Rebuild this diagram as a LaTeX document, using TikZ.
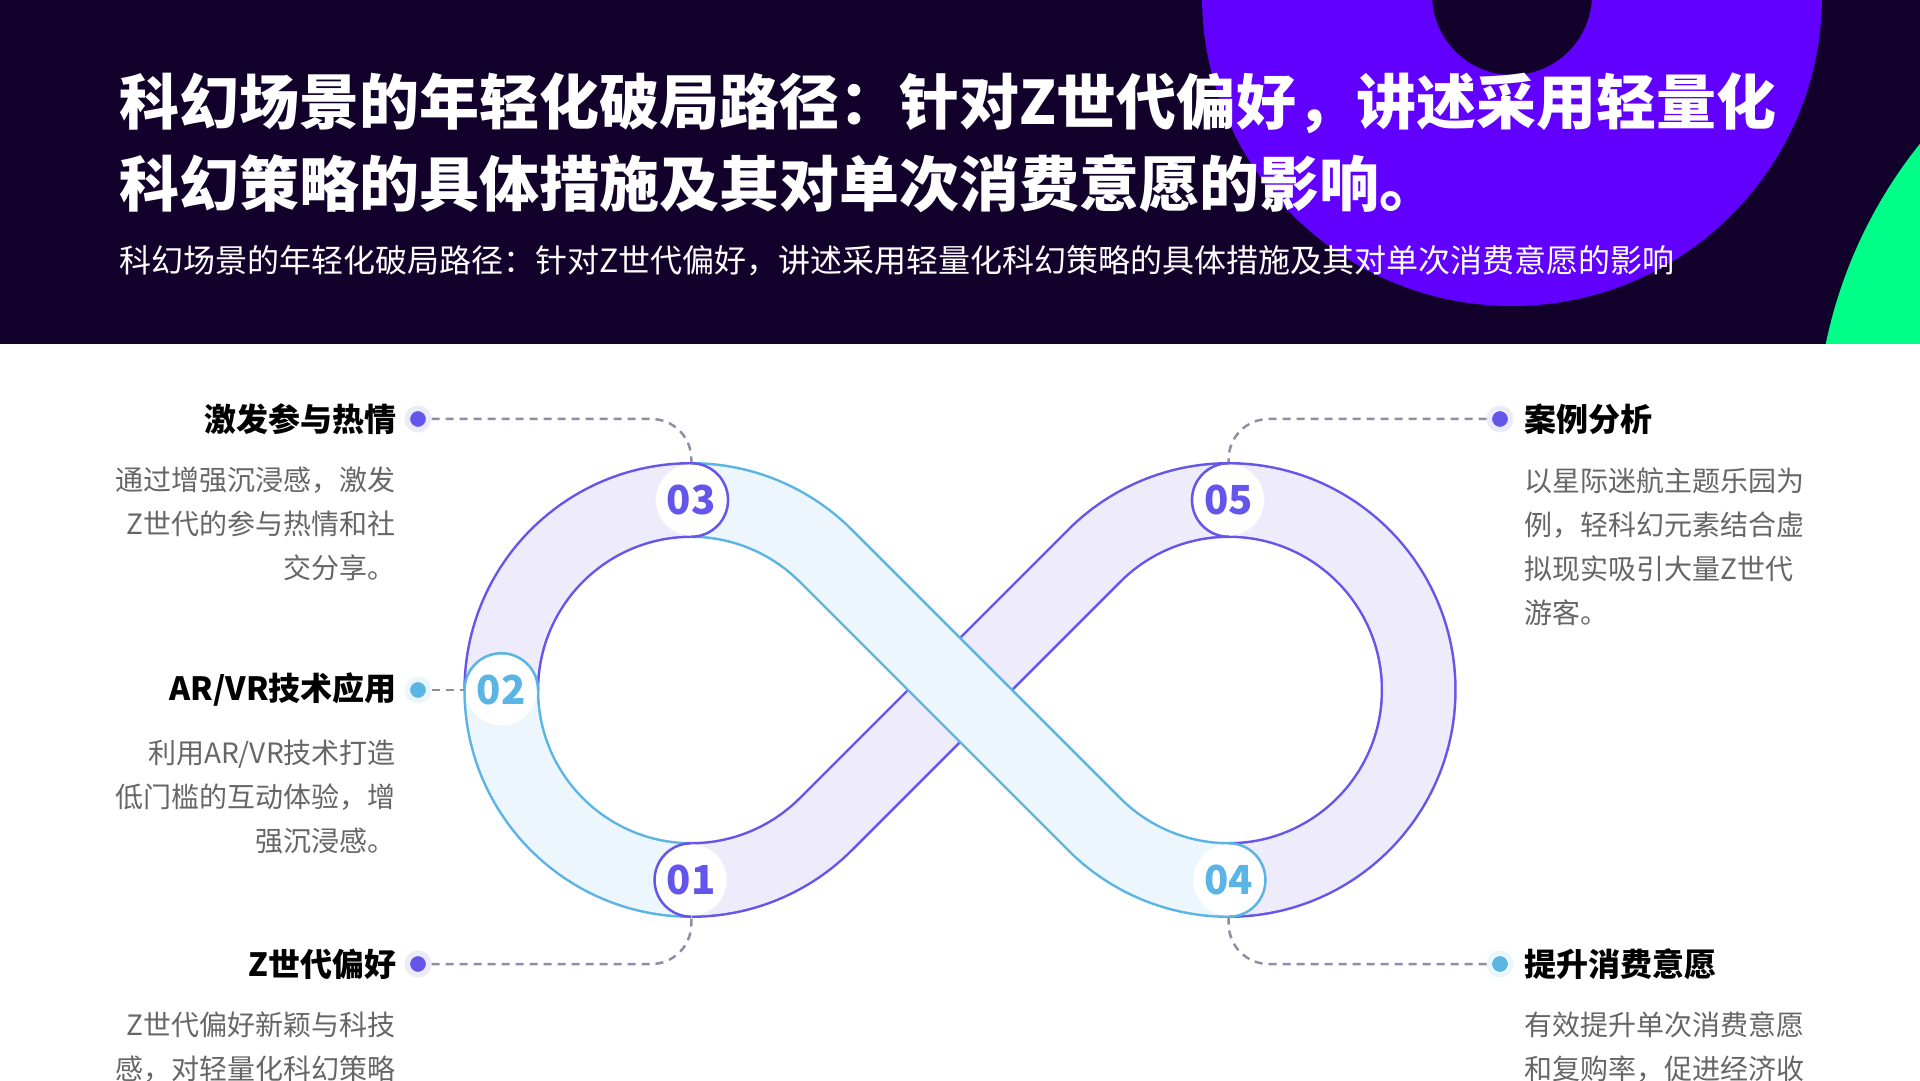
\documentclass[tikz,border=0pt]{standalone}
\usepackage{fontspec}
\setmainfont{Noto Sans CJK SC}
\definecolor{headbg}{HTML}{12022B}
\definecolor{violetring}{HTML}{6200FF}
\definecolor{mintglow}{HTML}{00FF88}
\definecolor{lavfill}{HTML}{EEECFB}
\definecolor{lavline}{HTML}{6456EA}
\definecolor{skyfill}{HTML}{EDF6FD}
\definecolor{skyline}{HTML}{5AB4E4}
\definecolor{leadgray}{HTML}{8E8EA6}
\definecolor{bodygray}{HTML}{666666}
% one piece of the band: outline first, then the fill on top
\newcommand\bandpart[3]{%
  \draw[line width=76pt, #1] #3;
  \draw[line width=71pt, #2] #3;}
\tikzset{
  badge/.style={circle, fill=white, minimum size=71pt, inner sep=0pt, outer sep=0pt,
    font=\fontsize{40pt}{40pt}\selectfont\bfseries},
  dotpin/.style={circle, fill=#1, draw=#1!12, line width=5.5pt, minimum size=21.5pt, inner sep=0pt},
  leader/.style={draw=leadgray, line width=2.5pt, dash pattern=on 8pt off 6pt, rounded corners=40pt},
  heading/.style={font=\fontsize{32pt}{32pt}\selectfont\bfseries, text=black, inner sep=0pt},
  bodytext/.style={font=\fontsize{28pt}{44pt}\selectfont, text=bodygray, inner sep=0pt},
}
\begin{document}
\begin{tikzpicture}[x=1pt, y=1pt]
    \path[use as bounding box, fill=white] (0,0) rectangle (1920,1080);

    % header
    \fill[headbg] (0,736) rectangle (1920,1080);
    \begin{scope}
        \clip (0,736) rectangle (1920,1080);
        \fill[violetring, even odd rule] (1512,1084) circle (310pt) (1512,1085) circle (80pt);
        \fill[mintglow] (2290,640) circle (474pt);
    \end{scope}
    \node[anchor=west, text=white, inner sep=0pt, font=\fontsize{60pt}{60pt}\selectfont\bfseries] (title1) at (119,977) {科幻场景的年轻化破局路径：针对Z世代偏好，讲述采用轻量化};
    \node[anchor=west, text=white, inner sep=0pt, font=\fontsize{60pt}{60pt}\selectfont\bfseries] (title2) at (119,896) {科幻策略的具体措施及其对单次消费意愿的影响。};
    \node[anchor=west, text=white, inner sep=0pt, font=\fontsize{32pt}{32pt}\selectfont] (subtitle) at (119,819) {科幻场景的年轻化破局路径：针对Z世代偏好，讲述采用轻量化科幻策略的具体措施及其对单次消费意愿的影响};

    % badge positions on the band
    \coordinate (p01) at (691.3,200);
    \coordinate (p02) at (501.3,390);
    \coordinate (p03) at (691.3,580);
    \coordinate (p04) at (1228.7,200);
    \coordinate (p05) at (1228.7,580);

    % pins and labels
    \node[dotpin=lavline] (d3) at (418,661) {};
    \node[dotpin=skyline] (d2) at (418,390) {};
    \node[dotpin=lavline] (d1) at (418,116) {};
    \node[dotpin=lavline] (d5) at (1500,661) {};
    \node[dotpin=skyline] (d4) at (1500,116) {};

    \node[heading, anchor=east] (h3) at (397,661) {激发参与热情};
    \node[heading, anchor=east] (h2) at (397,390) {AR/VR技术应用};
    \node[heading, anchor=east] (h1) at (397,116) {Z世代偏好};
    \node[heading, anchor=west] (h5) at (1524,661) {案例分析};
    \node[heading, anchor=west] (h4) at (1524,116) {提升消费意愿};

    \node[bodytext, align=right, anchor=north east] (t3) at (396,613) {通过增强沉浸感，激发\\Z世代的参与热情和社\\交分享。};
    \node[bodytext, align=right, anchor=north east] (t2) at (396,340) {利用AR/VR技术打造\\低门槛的互动体验，增\\强沉浸感。};
    \node[bodytext, align=right, anchor=north east] (t1) at (396,68) {Z世代偏好新颖与科技\\感，对轻量化科幻策略};
    \node[bodytext, align=left, anchor=north west] (t5) at (1524,613) {以星际迷航主题乐园为\\例，轻科幻元素结合虚\\拟现实吸引大量Z世代\\游客。};
    \node[bodytext, align=left, anchor=north west] (t4) at (1524,68) {有效提升单次消费意愿\\和复购率，促进经济收};

    % leaders (under the band)
    \draw[leader] (d3.east) -| (p03);
    \draw[leader] (d2.east) -- (p02);
    \draw[leader] (d1.east) -| (p01);
    \draw[leader] (d5.west) -| (p05);
    \draw[leader] (d4.west) -| (p04);

    % infinity band
    \bandpart{lavline}{lavfill}{(p01) arc[start angle=-90, end angle=-45, radius=190pt] -- (1094.35,524.35) arc[start angle=135, end angle=90, radius=190pt]}
    \bandpart{lavline}{lavfill}{(p05) arc[start angle=90, end angle=-90, radius=190pt]}
    \bandpart{lavline}{lavfill}{(p03) arc[start angle=90, end angle=180, radius=190pt]}
    \bandpart{skyline}{skyfill}{(p02) arc[start angle=180, end angle=270, radius=190pt]}
    \bandpart{skyline}{skyfill}{(p04) arc[start angle=-90, end angle=-135, radius=190pt] -- (825.65,524.35) arc[start angle=45, end angle=90, radius=190pt]}

    % badges
    \node[badge, text=lavline] (n01) at (p01) {01};
    \node[badge, text=skyline] (n02) at (p02) {02};
    \node[badge, text=lavline] (n03) at (p03) {03};
    \node[badge, text=skyline] (n04) at (p04) {04};
    \node[badge, text=lavline] (n05) at (p05) {05};
    \foreach \n/\a/\c in {n03/90/lavline, n02/180/skyline, n01/-90/lavline, n05/-90/lavline, n04/90/skyline}{
        \draw[\c, line width=2.5pt] ([shift={(\a:36.75pt)}]\n.center) arc[start angle=\a, end angle=\a-180, radius=36.75pt];
    }
\end{tikzpicture}
\end{document}
